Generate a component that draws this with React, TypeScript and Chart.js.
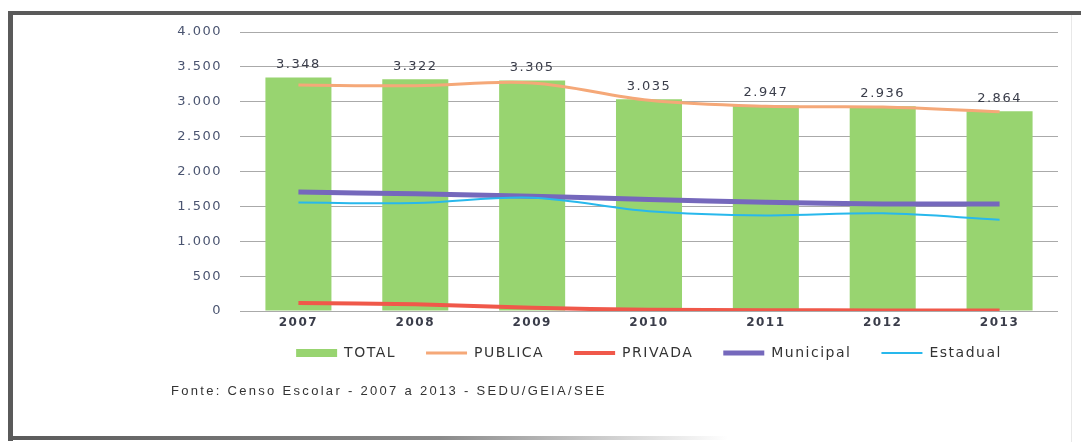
import React, { useEffect, useRef } from "react";
import { Chart, registerables } from "chart.js";

Chart.register(...registerables);

const YEARS = ["2007", "2008", "2009", "2010", "2011", "2012", "2013"];
const TOTAL = [3348, 3322, 3305, 3035, 2947, 2936, 2864];
const PUBLICA = [3240, 3230, 3270, 3020, 2935, 2925, 2855];
const PRIVADA = [115, 95, 45, 18, 12, 8, 6];
const MUNICIPAL = [1705, 1680, 1645, 1600, 1560, 1535, 1535];
const ESTADUAL = [1555, 1550, 1625, 1430, 1370, 1400, 1310];
const Y_MIN = 0;
const Y_MAX = 4000;
const Y_STEP = 500;
const SOURCE = "Fonte: Censo Escolar - 2007 a 2013 - SEDU/GEIA/SEE";

const fmt = (v: number) => String(Math.round(v)).replace(/\B(?=(\d{3})+(?!\d))/g, ".");

const FONT = "'DejaVu Sans', sans-serif";

const spacingPlugin = {
  id: "spacing",
  beforeUpdate(chart: any) {
    chart.ctx.letterSpacing = "1.5px";
  },
  beforeDraw(chart: any) {
    chart.ctx.letterSpacing = "1.5px";
  },
};

const barLabels = {
  id: "barLabels",
  afterDatasetsDraw(chart: any) {
    const ctx = chart.ctx;
    const meta = chart.getDatasetMeta(0);
    ctx.save();
    ctx.letterSpacing = "1.5px";
    ctx.font = `13px ${FONT}`;
    ctx.fillStyle = "#3a3d4a";
    ctx.textAlign = "center";
    ctx.textBaseline = "middle";
    meta.data.forEach((bar: any, i: number) => {
      ctx.fillText(fmt(TOTAL[i]), bar.x, bar.y - 13);
    });
    ctx.restore();
  },
};

export default function App() {
  const ref = useRef<HTMLCanvasElement>(null);

  useEffect(() => {
    if (!ref.current) return;
    const chart = new Chart(ref.current, {
      type: "bar",
      data: {
        labels: YEARS,
        datasets: [
          {
            type: "bar",
            label: "TOTAL",
            data: TOTAL,
            backgroundColor: "#98d470",
            borderWidth: 0,
            pointStyle: "rect",
            order: 10,
            categoryPercentage: 1,
            barPercentage: 0.565,
          } as any,
          {
            type: "line",
            label: "PUBLICA",
            data: PUBLICA,
            borderColor: "#f5a878",
            backgroundColor: "#f5a878",
            borderWidth: 3,
            pointRadius: 0,
            pointStyle: "line",
            tension: 0.35,
            order: 1,
          } as any,
          {
            type: "line",
            label: "PRIVADA",
            data: PRIVADA,
            borderColor: "#f0584a",
            backgroundColor: "#f0584a",
            borderWidth: 4,
            pointRadius: 0,
            pointStyle: "line",
            tension: 0.35,
            order: 2,
          } as any,
          {
            type: "line",
            label: "Municipal",
            data: MUNICIPAL,
            borderColor: "#7568bc",
            backgroundColor: "#7568bc",
            borderWidth: 5,
            pointRadius: 0,
            pointStyle: "line",
            tension: 0.35,
            order: 4,
          } as any,
          {
            type: "line",
            label: "Estadual",
            data: ESTADUAL,
            borderColor: "#28b8ec",
            backgroundColor: "#28b8ec",
            borderWidth: 2,
            pointRadius: 0,
            pointStyle: "line",
            tension: 0.35,
            order: 3,
          } as any,
        ],
      },
      options: {
        responsive: false,
        animation: false,
        layout: { padding: { left: 150, right: 23, top: 32, bottom: 72 } },
        plugins: {
          tooltip: { enabled: false },
          legend: {
            position: "bottom",
            fullSize: false,
            labels: {
              usePointStyle: true,
              pointStyleWidth: 41,
              boxHeight: 8,
              padding: 30,
              color: "#333",
              font: { family: FONT, size: 14 },
              sort: (a: any, b: any) => a.datasetIndex - b.datasetIndex,
            },
          },
        },
        scales: {
          x: {
            grid: { display: false, drawTicks: false },
            border: { display: false },
            ticks: {
              padding: 5,
              color: "#3a3d4a",
              font: { family: FONT, size: 12, weight: "bold" },
            },
            afterFit: (s: any) => {
              s.height = 5;
              s._computeLabelArea = () => undefined;
            },
          },
          y: {
            min: Y_MIN,
            max: Y_MAX,
            grid: { color: "#aaaaaa", lineWidth: 1, drawTicks: false },
            border: { display: false },
            ticks: {
              stepSize: Y_STEP,
              padding: 18,
              color: "#4a5470",
              font: { family: FONT, size: 13 },
              callback: (v: any) => fmt(Number(v)),
            },
            afterFit: (s: any) => {
              s.width = 90;
            },
          },
        },
      },
      plugins: [spacingPlugin, barLabels],
    } as any);
    return () => chart.destroy();
  }, []);

  return (
    <div
      style={{
        position: "fixed",
        left: 0,
        top: 0,
        width: 1081,
        height: 442,
        background: "#fff",
        overflow: "hidden",
      }}
    >
      <div style={{ position: "absolute", left: 8, top: 11, width: 1073, height: 4, background: "#5a5a5a" }} />
      <div style={{ position: "absolute", left: 8, top: 11, width: 5, height: 430, background: "#5a5a5a" }} />
      <div
        style={{
          position: "absolute",
          left: 8,
          top: 436,
          width: 720,
          height: 4,
          background: "linear-gradient(to right, #5a5a5a, #8a8a8a 60%, rgba(200,200,200,0))",
        }}
      />
      <div style={{ position: "absolute", left: 1071, top: 15, width: 1, height: 427, background: "#e8e8e8" }} />
      <canvas ref={ref} width={1081} height={442} style={{ position: "absolute", left: 0, top: 0 }} />
      <div
        style={{
          position: "absolute",
          left: 171,
          top: 383,
          fontFamily: "'Liberation Sans', Arial, sans-serif",
          fontSize: 13,
          letterSpacing: "2.3px",
          color: "#333",
          whiteSpace: "nowrap",
        }}
      >
        {SOURCE}
      </div>
    </div>
  );
}
